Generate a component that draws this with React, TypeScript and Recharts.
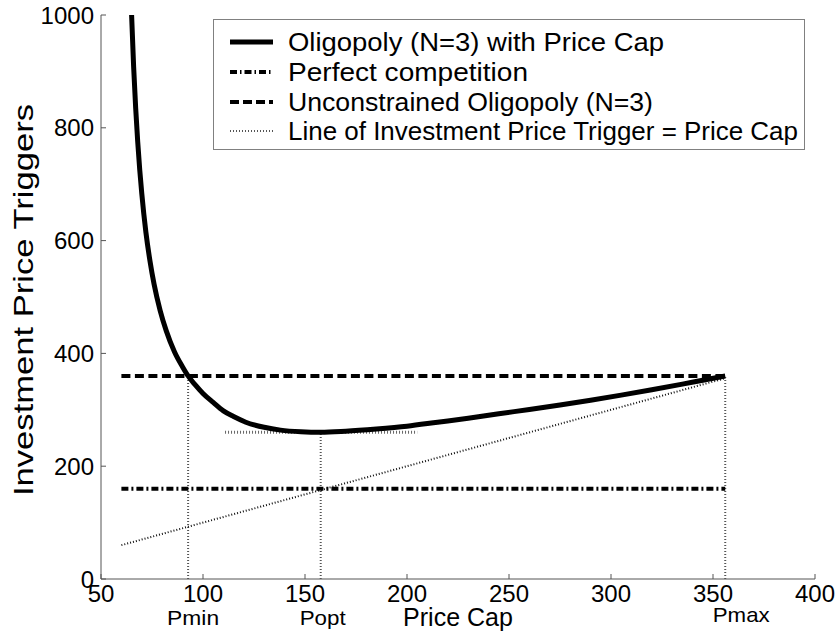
import { ComposedChart, Line, XAxis, YAxis, Legend } from "recharts";

const FONT = "'Liberation Sans', Arial, Helvetica, sans-serif";

const xTicks = [50, 100, 150, 200, 250, 300, 350, 400];
const yTicks = [0, 200, 400, 600, 800, 1000];

// oligopoly with price cap
const priceCap = [
  65, 66, 67, 68, 69, 70, 72, 74, 76, 79, 82, 86, 90, 92.7, 96, 100, 105, 110, 115, 121,
  130, 138, 148, 157.7, 170, 185, 200, 215, 230, 245, 260, 275, 290, 305, 320, 335, 345, 356,
];
const cappedTrigger = [
  1000, 908, 835, 775, 725, 683, 615, 564, 523, 476, 440, 403, 376, 360, 345, 329, 313, 298, 288, 278,
  269, 264, 261, 260, 262, 266, 271, 278, 285, 293, 300.5, 308.5, 317, 326, 335.5, 345.5, 352.5, 360,
];

const pMin = 92.7;
const pOpt = 157.7;
const pMax = 356;
const lineStart = 60;
const competitiveTrigger = 160;
const unconstrainedTrigger = 360;
const optimalTrigger = 260;
const optimalBand = [110.8, 205];

const markerNames = ["Pmin", "Popt", "Pmax"];
const markerValues = [pMin, pOpt, pMax];
const markerTops = [unconstrainedTrigger, optimalTrigger, unconstrainedTrigger];

const legendLabels = [
  "Oligopoly (N=3) with Price Cap",
  "Perfect competition",
  "Unconstrained Oligopoly (N=3)",
  "Line of Investment Price Trigger = Price Cap",
];

const curve = priceCap.map((x, i) => ({ x, y: cappedTrigger[i] }));
const flat = (y: number) => [
  { x: lineStart, y },
  { x: pMax, y },
];
const diagonal = [
  { x: lineStart, y: lineStart },
  { x: pMax, y: pMax },
];
const band = optimalBand.map((x) => ({ x, y: optimalTrigger }));
const verticals = markerValues.map((x, i) => [
  { x, y: 0 },
  { x, y: markerTops[i] },
]);

// placement of the marker names under the axis
const markerDx = [5, 2, 16];
const markerDy = [16, 16, 13];
const markerLen = [52, 46, 57];

function MarkerTick(props: any) {
  const { x, y, index } = props;
  return (
    <text
      x={x + markerDx[index]}
      y={y + markerDy[index]}
      textAnchor="middle"
      fontFamily={FONT}
      fontSize={21}
      fill="#000"
      textLength={markerLen[index]}
      lengthAdjust="spacingAndGlyphs"
    >
      {markerNames[index]}
    </text>
  );
}

function PriceCapLabel(props: any) {
  const vb = props.viewBox;
  return (
    <text
      x={vb.x + vb.width / 2}
      y={vb.y + 47}
      textAnchor="middle"
      fontFamily={FONT}
      fontSize={25}
      fill="#000"
    >
      Price Cap
    </text>
  );
}

function TriggerLabel(props: any) {
  const vb = props.viewBox;
  const cx = vb.x + 33;
  const cy = vb.y + vb.height / 2 + 3;
  return (
    <text
      x={cx}
      y={cy}
      transform={`rotate(-90, ${cx}, ${cy})`}
      textAnchor="middle"
      fontFamily={FONT}
      fontSize={28}
      fill="#000"
      textLength={392}
      lengthAdjust="spacingAndGlyphs"
    >
      Investment Price Triggers
    </text>
  );
}

const legendStyles = [
  { width: 5, dash: undefined, color: "#000" },
  { width: 4, dash: "7 3 1.5 3", color: "#000" },
  { width: 4, dash: "9 4", color: "#000" },
  { width: 2, dash: "1 2", color: "#555" },
];
const legendRows = [23, 53, 83, 112];
const legendTextLen = [376, 240, 365, 510];

function LegendBox() {
  return (
    <svg width={592} height={131} style={{ display: "block" }}>
      <rect x={0.5} y={0.5} width={591} height={130} fill="#fff" stroke="#808080" strokeWidth={1} />
      {legendLabels.map((label, i) => (
        <g key={label}>
          <line
            x1={17}
            x2={60}
            y1={legendRows[i]}
            y2={legendRows[i]}
            stroke={legendStyles[i].color}
            strokeWidth={legendStyles[i].width}
            strokeDasharray={legendStyles[i].dash}
          />
          <text
            x={75}
            y={legendRows[i] + 9}
            fontFamily={FONT}
            fontSize={26}
            fill="#000"
            textLength={legendTextLen[i]}
            lengthAdjust="spacingAndGlyphs"
          >
            {label}
          </text>
        </g>
      ))}
    </svg>
  );
}

export default function App() {
  return (
    <div style={{ position: "absolute", left: 0, top: 0, background: "#fff" }}>
      <ComposedChart width={839} height={643} margin={{ top: 15, right: 24, bottom: 0, left: 0 }}>
        <XAxis
          dataKey="x"
          type="number"
          domain={[50, 400]}
          ticks={xTicks}
          allowDataOverflow
          height={30}
          stroke="#555"
          tickSize={-5}
          tickMargin={11}
          tick={{ fontSize: 24, fill: "#000", fontFamily: FONT }}
          label={<PriceCapLabel />}
        />
        <XAxis
          xAxisId="m"
          dataKey="x"
          type="number"
          domain={[50, 400]}
          ticks={markerValues}
          allowDataOverflow
          height={34}
          axisLine={false}
          tickLine={false}
          tickSize={0}
          tickMargin={0}
          tick={<MarkerTick />}
        />
        <YAxis
          type="number"
          domain={[0, 1000]}
          ticks={yTicks}
          allowDataOverflow
          width={101}
          stroke="#555"
          tickSize={-5}
          tickMargin={12}
          tick={{ fontSize: 24, fill: "#000", fontFamily: FONT }}
          label={<TriggerLabel />}
        />
        <Legend
          layout="vertical"
          align="center"
          verticalAlign="middle"
          wrapperStyle={{ left: 213, top: 19, width: 592, height: 131 }}
          content={<LegendBox />}
        />
        {verticals.map((d, i) => (
          <Line
            key={markerNames[i]}
            data={d}
            dataKey="y"
            type="linear"
            stroke="#555"
            strokeWidth={2}
            strokeDasharray="1 2"
            dot={false}
            activeDot={false}
            legendType="none"
            isAnimationActive={false}
          />
        ))}
        <Line
          data={band}
          dataKey="y"
          type="linear"
          stroke="#666"
          strokeWidth={3}
          strokeDasharray="1 2"
          dot={false}
          activeDot={false}
          isAnimationActive={false}
        />
        <Line
          data={diagonal}
          dataKey="y"
          type="linear"
          stroke="#111"
          strokeWidth={2}
          strokeDasharray="1 2"
          dot={false}
          activeDot={false}
          isAnimationActive={false}
        />
        <Line
          data={flat(competitiveTrigger)}
          dataKey="y"
          type="linear"
          stroke="#000"
          strokeWidth={4}
          strokeDasharray="7 3 2 3"
          dot={false}
          activeDot={false}
          isAnimationActive={false}
        />
        <Line
          data={flat(unconstrainedTrigger)}
          dataKey="y"
          type="linear"
          stroke="#000"
          strokeWidth={4}
          strokeDasharray="9 4.5"
          dot={false}
          activeDot={false}
          isAnimationActive={false}
        />
        <Line
          data={curve}
          dataKey="y"
          type="monotone"
          stroke="#000"
          strokeWidth={5}
          dot={false}
          activeDot={false}
          isAnimationActive={false}
        />
      </ComposedChart>
    </div>
  );
}
